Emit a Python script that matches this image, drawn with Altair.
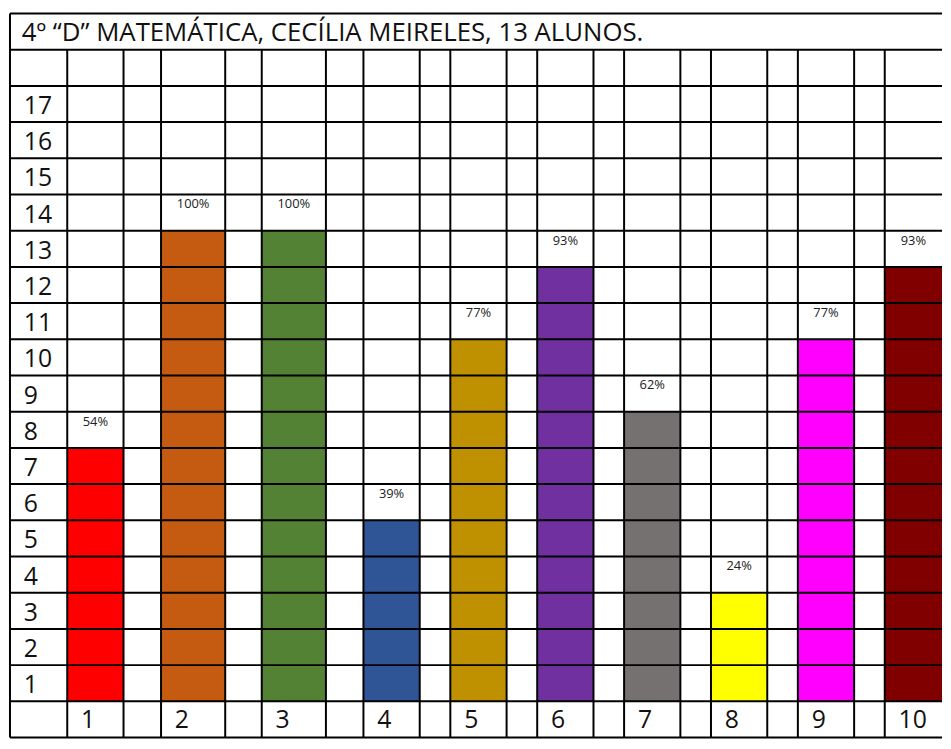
import altair as alt
import pandas as pd

# ---------------- data ----------------
TITLE = "4º “D” MATEMÁTICA, CECÍLIA MEIRELES, 13 ALUNOS."
categories = ["1", "2", "3", "4", "5", "6", "7", "8", "9", "10"]
counts = [7, 13, 13, 5, 10, 12, 8, 3, 10, 12]
percent_labels = ["54%", "100%", "100%", "39%", "77%", "93%", "62%", "24%", "77%", "93%"]
bar_colors = ["#FF0000", "#C55A11", "#548235", "#2F5597", "#BF9000",
              "#7030A0", "#767171", "#FFFF00", "#FF00FF", "#800000"]
row_labels = list(range(1, 18))

# ---------------- layout (table geometry) ----------------
label_col_w = 58
bar_col_w = [57, 65, 65, 57, 57, 57, 57, 57, 57, 58]
gap_col_w = [38, 37, 38, 31, 31, 31, 31, 31, 31]

W = 941
H = 731
FONT = "Open Sans"

edges = [0, label_col_w]
bar_x0, bar_x1 = [], []
x = label_col_w
for i, bw in enumerate(bar_col_w):
    bar_x0.append(x)
    x += bw
    bar_x1.append(x)
    if i < len(gap_col_w):
        edges.append(x)
        x += gap_col_w[i]
        edges.append(x)
TOTAL = x  # right edge (open side, no border line)

xs = alt.Scale(domain=[0, TOTAL], nice=False, zero=False)
ys = alt.Scale(domain=[-1, 19], nice=False, zero=False)

bars_df = pd.DataFrame({
    "cat": categories, "count": counts, "pct": percent_labels,
    "color": bar_colors, "x0": bar_x0, "x1": bar_x1,
})
bars_df["xc"] = (bars_df["x0"] + bars_df["x1"]) / 2
bars_df["xl"] = bars_df["x0"] + 14
bars_df["base"] = 0
bars_df["top_row"] = bars_df["count"] + 1
bars_df["label_y"] = -0.5

bars = alt.Chart(bars_df).mark_rect().encode(
    x=alt.X("x0:Q", scale=xs, axis=None), x2="x1:Q",
    y=alt.Y("base:Q", scale=ys, axis=None), y2="count:Q",
    color=alt.Color("color:N", scale=None),
)

# horizontal lines
h_df = pd.DataFrame({"y": list(range(-1, 20)), "x0": 0, "x1": TOTAL})
hrules = alt.Chart(h_df).mark_rule(color="black", strokeWidth=2).encode(
    x=alt.X("x0:Q", scale=xs, axis=None), x2="x1:Q",
    y=alt.Y("y:Q", scale=ys, axis=None),
)

# vertical lines
v_df = pd.DataFrame({"x": edges, "y0": -1, "y1": [19] + [18] * (len(edges) - 1)})
vrules = alt.Chart(v_df).mark_rule(color="black", strokeWidth=2).encode(
    x=alt.X("x:Q", scale=xs, axis=None),
    y=alt.Y("y0:Q", scale=ys, axis=None), y2="y1:Q",
)

# percentage labels
pct_text = alt.Chart(bars_df).mark_text(
    font=FONT, fontSize=13, baseline="top", align="center", dy=4, color="#222222"
).encode(
    x=alt.X("xc:Q", scale=xs, axis=None),
    y=alt.Y("top_row:Q", scale=ys, axis=None),
    text="pct:N",
)

# bottom category labels
cat_text = alt.Chart(bars_df).mark_text(
    font=FONT, fontSize=25, baseline="middle", align="left", dy=1, color="#111111"
).encode(
    x=alt.X("xl:Q", scale=xs, axis=None),
    y=alt.Y("label_y:Q", scale=ys, axis=None),
    text="cat:N",
)

# row labels
rows_df = pd.DataFrame({"row": row_labels})
rows_df["y"] = rows_df["row"] - 0.5
rows_df["x"] = 14
row_text = alt.Chart(rows_df).mark_text(
    font=FONT, fontSize=25, baseline="middle", align="left", dy=2, color="#111111"
).encode(
    x=alt.X("x:Q", scale=xs, axis=None),
    y=alt.Y("y:Q", scale=ys, axis=None),
    text="row:N",
)

# title inside the first row
title_df = pd.DataFrame({"t": [TITLE], "x": [12], "y": [18.5]})
title_text = alt.Chart(title_df).mark_text(
    font=FONT, fontSize=26, baseline="middle", align="left", dy=1, color="#111111"
).encode(
    x=alt.X("x:Q", scale=xs, axis=None),
    y=alt.Y("y:Q", scale=ys, axis=None),
    text="t:N",
)

chart = alt.layer(bars, hrules, vrules, pct_text, cat_text, row_text, title_text).properties(
    width=W, height=H, padding={"left": 1, "top": 1, "right": 0, "bottom": 2},
    background="white",
).configure_view(strokeWidth=0)

chart.save("out.html", embed_options={"renderer": "svg", "actions": False})
